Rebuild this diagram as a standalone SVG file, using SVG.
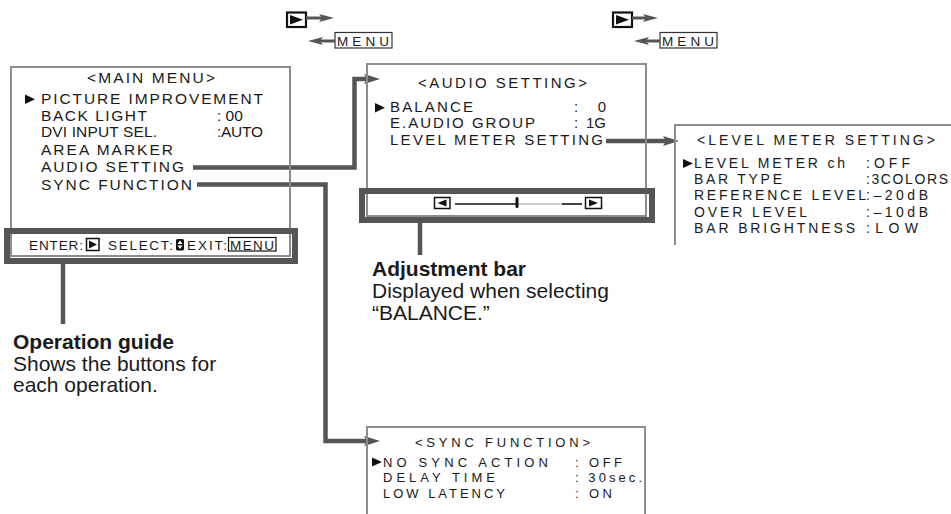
<svg xmlns="http://www.w3.org/2000/svg" width="951" height="514" viewBox="0 0 951 514">
<defs>
<style>
.t{font-family:"Liberation Sans",Arial,Helvetica,sans-serif;fill:#1a1a1a}
.m15{font-size:15.5px}
.m14{font-size:15px}
.m13{font-size:14px}
.s13{font-size:13px}
.g13{font-size:13.5px}
.lab{font-size:21px}
.b{font-weight:bold}
.box{fill:none;stroke:#8c8c8c;stroke-width:2}
.frame{fill:none;stroke:#555;stroke-width:6}
.con{fill:none;stroke:#555;stroke-width:4.5;stroke-linejoin:miter}
.sm{fill:none;stroke:#555;stroke-width:3}
.btn{fill:#fff;stroke:#111;stroke-width:2.2}
.mbtn{fill:#fff;stroke:#333;stroke-width:1.2}
</style>
<marker id="ah" markerUnits="userSpaceOnUse" markerWidth="17" markerHeight="11" refX="6" refY="5" orient="auto">
<path d="M0,0 L16,5 L0,10 L3,5 z" fill="#555"/>
</marker>
<marker id="ahs" markerUnits="userSpaceOnUse" markerWidth="17" markerHeight="9" refX="5" refY="4" orient="auto">
<path d="M0,0 L15,4 L0,8 L3,4 z" fill="#555"/>
</marker>
</defs>
<rect width="951" height="514" fill="#fff"/>

<g id="legend-top">
<rect class="btn" x="287" y="12.5" width="19" height="14.5"/>
<polygon points="290,15 303,19.75 290,24.5" fill="#111"/>
<path class="sm" d="M306,18 H324" marker-end="url(#ahs)"/>
<rect class="mbtn" x="335" y="32.5" width="57" height="15.5"/>
<text class="t g13" x="337" y="46" textLength="52" lengthAdjust="spacing">MENU</text>
<path class="sm" d="M335,41 H318" marker-end="url(#ahs)"/>

<rect class="btn" x="613" y="12.5" width="19" height="14.5"/>
<polygon points="616,15 629,19.75 616,24.5" fill="#111"/>
<path class="sm" d="M632,18 H648" marker-end="url(#ahs)"/>
<rect class="mbtn" x="660" y="32.5" width="57" height="15.5"/>
<text class="t g13" x="662" y="46" textLength="52" lengthAdjust="spacing">MENU</text>
<path class="sm" d="M660,41 H644" marker-end="url(#ahs)"/>
</g>

<g id="connectors">
<path class="con" d="M193,167.5 H354.5 V79 H370" marker-end="url(#ah)"/>
<path class="con" d="M197,184.5 H325.5 V441 H370" marker-end="url(#ah)"/>
<path class="con" d="M606,141 H669" marker-end="url(#ah)"/>
<path class="con" d="M63,264 V324"/>
<path class="con" d="M420,223 V255"/>
</g>

<g id="main-menu">
<rect class="box" x="11" y="67" width="279" height="189"/>
<text class="t m15" x="87" y="83" textLength="128" lengthAdjust="spacing">&lt;MAIN MENU&gt;</text>
<polygon points="25,94.5 35,99.25 25,104" fill="#111"/>
<text class="t m15" x="41" y="104" textLength="222" lengthAdjust="spacing">PICTURE IMPROVEMENT</text>
<text class="t m15" x="41" y="121" textLength="106" lengthAdjust="spacing">BACK LIGHT</text>
<text class="t m15" x="217" y="121">: 00</text>
<text class="t m15" x="41" y="137" textLength="116" lengthAdjust="spacing">DVI INPUT SEL.</text>
<text class="t m15" x="217" y="137" textLength="46" lengthAdjust="spacing">:AUTO</text>
<text class="t m15" x="41" y="155" textLength="132" lengthAdjust="spacing">AREA MARKER</text>
<text class="t m15" x="41" y="172" textLength="143" lengthAdjust="spacing">AUDIO SETTING</text>
<text class="t m15" x="41" y="190" textLength="151" lengthAdjust="spacing">SYNC FUNCTION</text>
</g>

<g id="operation-guide">
<rect class="frame" x="7" y="231" width="288" height="30"/>
<text class="t g13" x="29" y="250" textLength="54" lengthAdjust="spacing">ENTER:</text>
<rect x="86.5" y="238.5" width="12.5" height="12" fill="#fff" stroke="#111" stroke-width="1.5"/>
<polygon points="89,240.5 97,244.5 89,248.5" fill="#111"/>
<text class="t g13" x="108" y="250" textLength="65" lengthAdjust="spacing">SELECT:</text>
<rect x="176" y="239" width="8" height="11.5" rx="1.5" fill="#111"/>
<polygon points="177.5,244 180,240.5 182.5,244" fill="#fff"/>
<polygon points="177.5,245.5 180,249 182.5,245.5" fill="#fff"/>
<text class="t g13" x="187" y="250" textLength="40" lengthAdjust="spacing">EXIT:</text>
<rect x="228.5" y="237.5" width="47.5" height="13.5" fill="#fff" stroke="#111" stroke-width="1.2"/>
<text class="t g13" x="230" y="249.5" textLength="44" lengthAdjust="spacing">MENU</text>
</g>

<g id="label-operation-guide">
<text class="t lab b" x="13" y="349">Operation guide</text>
<text class="t lab" x="13" y="371">Shows the buttons for</text>
<text class="t lab" x="13" y="392">each operation.</text>
</g>

<g id="audio-setting">
<rect class="box" x="367" y="64" width="279" height="152"/>
<text class="t m14" x="418" y="88" textLength="169" lengthAdjust="spacing">&lt;AUDIO SETTING&gt;</text>
<polygon points="375,103 385,107.75 375,112.5" fill="#111"/>
<text class="t m14" x="390" y="112" textLength="83" lengthAdjust="spacing">BALANCE</text>
<text class="t m14" x="574" y="112">:</text>
<text class="t m14" x="606" y="112" text-anchor="end">0</text>
<text class="t m14" x="390" y="128" textLength="145" lengthAdjust="spacing">E.AUDIO GROUP</text>
<text class="t m14" x="574" y="128">:</text>
<text class="t m14" x="606" y="128" text-anchor="end">1G</text>
<text class="t m14" x="390" y="145" textLength="213" lengthAdjust="spacing">LEVEL METER SETTING</text>
</g>

<g id="adjustment-bar">
<rect class="frame" x="362" y="191" width="290" height="29"/>
<rect x="434.5" y="197.5" width="15.5" height="11" fill="#fff" stroke="#111" stroke-width="1.5"/>
<polygon points="446.5,199.5 437.5,203 446.5,206.5" fill="#111"/>
<line x1="455" y1="204" x2="517" y2="204" stroke="#111" stroke-width="1.6"/>
<line x1="517" y1="204" x2="562" y2="204" stroke="#999" stroke-width="1"/>
<line x1="562" y1="204" x2="582" y2="204" stroke="#111" stroke-width="1.6"/>
<rect x="515.5" y="197" width="3" height="11" rx="1.5" fill="#111"/>
<rect x="585.5" y="197.5" width="16" height="11" fill="#fff" stroke="#111" stroke-width="1.5"/>
<polygon points="589,199.5 598,203 589,206.5" fill="#111"/>
</g>

<g id="label-adjustment-bar">
<text class="t lab b" x="372" y="276">Adjustment bar</text>
<text class="t lab" x="372" y="298">Displayed when selecting</text>
<text class="t lab" x="372" y="320">“BALANCE.”</text>
</g>

<g id="level-meter-setting">
<path class="box" d="M951,125 H675 V245"/>
<text class="t m13" x="697" y="145" textLength="238" lengthAdjust="spacing">&lt;LEVEL METER SETTING&gt;</text>
<polygon points="683,159 693,163.5 683,168" fill="#111"/>
<text class="t m13" x="694" y="168" textLength="151" lengthAdjust="spacing">LEVEL METER ch</text>
<text class="t m13" x="866" y="168" textLength="44" lengthAdjust="spacing">:OFF</text>
<text class="t m13" x="694" y="184" textLength="88" lengthAdjust="spacing">BAR TYPE</text>
<text class="t m13" x="866" y="184" textLength="82" lengthAdjust="spacing">:3COLORS</text>
<text class="t m13" x="694" y="200" textLength="172" lengthAdjust="spacing">REFERENCE LEVEL</text>
<text class="t m13" x="866" y="200" textLength="62" lengthAdjust="spacing">:–20dB</text>
<text class="t m13" x="694" y="216.5" textLength="113" lengthAdjust="spacing">OVER LEVEL</text>
<text class="t m13" x="866" y="216.5" textLength="62" lengthAdjust="spacing">:–10dB</text>
<text class="t m13" x="694" y="233" textLength="161" lengthAdjust="spacing">BAR BRIGHTNESS</text>
<text class="t m13" x="866" y="233" textLength="52" lengthAdjust="spacing">:LOW</text>
</g>

<g id="sync-function">
<path class="box" d="M367,514 V427 H645 V514"/>
<text class="t s13" x="415" y="447" textLength="175" lengthAdjust="spacing">&lt;SYNC FUNCTION&gt;</text>
<polygon points="372,457.5 382,462 372,466.5" fill="#111"/>
<text class="t s13" x="383" y="466.5" textLength="165" lengthAdjust="spacing">NO SYNC ACTION</text>
<text class="t s13" x="575" y="466.5" textLength="47" lengthAdjust="spacing">: OFF</text>
<text class="t s13" x="383" y="482" textLength="112" lengthAdjust="spacing">DELAY TIME</text>
<text class="t s13" x="575" y="482" textLength="67" lengthAdjust="spacing">: 30sec.</text>
<text class="t s13" x="383" y="497.5" textLength="122" lengthAdjust="spacing">LOW LATENCY</text>
<text class="t s13" x="575" y="497.5" textLength="37" lengthAdjust="spacing">: ON</text>
</g>
</svg>
